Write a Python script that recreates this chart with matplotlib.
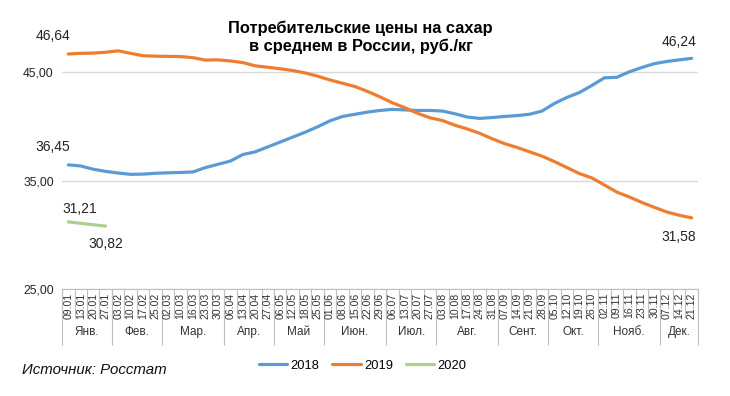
import matplotlib
matplotlib.use("Agg")
import matplotlib.pyplot as plt
import matplotlib.transforms as mtransforms

plt.rcParams['font.family'] = ['Liberation Sans', 'DejaVu Sans']

# weekly dates (same for every year)
dates = ["09.01", "13.01", "20.01", "27.01",
         "03.02", "10.02", "17.02", "25.02",
         "02.03", "10.03", "16.03", "23.03", "30.03",
         "06.04", "13.04", "20.04", "27.04",
         "06.05", "12.05", "18.05", "25.05",
         "01.06", "08.06", "15.06", "22.06", "29.06",
         "06.07", "13.07", "20.07", "27.07",
         "03.08", "10.08", "17.08", "24.08", "31.08",
         "07.09", "14.09", "21.09", "28.09",
         "05.10", "12.10", "19.10", "26.10",
         "02.11", "09.11", "16.11", "23.11", "30.11",
         "07.12", "14.12", "21.12"]
months = ["Янв.", "Фев.", "Мар.", "Апр.", "Май", "Июн.",
          "Июл.", "Авг.", "Сент.", "Окт.", "Нояб.", "Дек."]
weeks_in_month = [4, 4, 5, 4, 4, 5, 4, 5, 4, 4, 5, 3]

prices_2018 = [36.45, 36.35, 36.05, 35.85, 35.70, 35.58, 35.60, 35.68, 35.72, 35.75,
               35.80, 36.20, 36.50, 36.80, 37.40, 37.65, 38.10, 38.55, 39.00, 39.45,
               39.95, 40.50, 40.90, 41.10, 41.30, 41.45, 41.55, 41.50, 41.45, 41.45,
               41.40, 41.15, 40.85, 40.72, 40.80, 40.90, 40.98, 41.10, 41.40, 42.10,
               42.65, 43.10, 43.75, 44.45, 44.50, 45.00, 45.40, 45.75, 45.95, 46.10,
               46.24]
prices_2019 = [46.64, 46.70, 46.72, 46.80, 46.93, 46.70, 46.48, 46.44, 46.42, 46.40,
               46.30, 46.08, 46.10, 46.00, 45.85, 45.55, 45.42, 45.28, 45.12, 44.90,
               44.60, 44.25, 43.95, 43.65, 43.20, 42.70, 42.15, 41.70, 41.20, 40.78,
               40.53, 40.10, 39.75, 39.35, 38.85, 38.40, 38.05, 37.65, 37.25, 36.75,
               36.20, 35.65, 35.25, 34.60, 33.95, 33.50, 33.00, 32.55, 32.12, 31.82,
               31.58]
prices_2020 = [31.21, 31.08, 30.95, 30.82]

c2018 = "#5b9bd5"
c2019 = "#ed7d31"
c2020 = "#a9d18e"

fig = plt.figure(figsize=(7.3, 3.96), dpi=100)
ax = fig.add_axes([0.085, 0.269, 0.871, 0.687])

x = list(range(len(dates)))
ax.plot(x, prices_2018, color=c2018, lw=2.3, label="2018", solid_capstyle="round")
ax.plot(x, prices_2019, color=c2019, lw=2.3, label="2019", solid_capstyle="round")
ax.plot(x[:len(prices_2020)], prices_2020, color=c2020, lw=2.3, label="2020",
        solid_capstyle="round")

ax.set_xlim(-0.5, len(dates) - 0.5)
ax.set_ylim(25, 50)
ax.set_yticks([25, 35, 45])
ax.set_yticklabels(["25,00", "35,00", "45,00"], fontsize=8.7, color="#222222")
ax.tick_params(axis="y", length=0, pad=6)
ax.set_xticks([])
ax.grid(axis="y", color="#d9d9d9", lw=1)
for s in ["top", "right", "left"]:
    ax.spines[s].set_visible(False)
ax.spines["bottom"].set_color("#bfbfbf")

# table-like category axis
trans = mtransforms.blended_transform_factory(ax.transData, ax.transAxes)
for i, d in enumerate(dates):
    ax.text(i, -0.012, d, transform=trans, rotation=90, ha="center", va="top",
            fontsize=7.6, color="#333333")
ax.vlines([i - 0.5 for i in range(len(dates) + 1)], -0.105, 0, transform=trans,
          color="#bfbfbf", lw=0.8, clip_on=False)
start = 0
bounds = [-0.5]
for m, n in zip(months, weeks_in_month):
    ax.text(start + (n - 1) / 2, -0.155, m, transform=trans, ha="center", va="center",
            fontsize=8.5, color="#333333")
    start += n
    bounds.append(start - 0.5)
ax.vlines(bounds, -0.205, 0, transform=trans, color="#bfbfbf", lw=0.8, clip_on=False)

# value labels
lab = dict(fontsize=10, color="#222222", textcoords="offset points", ha="center",
           va="center")
ax.annotate("46,64", (0, prices_2019[0]), xytext=(-11, 13), **lab)
ax.annotate("36,45", (0, prices_2018[0]), xytext=(-11, 13), **lab)
ax.annotate("46,24", (50, prices_2018[-1]), xytext=(-9, 12), **lab)
ax.annotate("31,58", (50, prices_2019[-1]), xytext=(-9, -14), **lab)
ax.annotate("31,21", (0, prices_2020[0]), xytext=(8, 9), **lab)
ax.annotate("30,82", (3, prices_2020[-1]), xytext=(0, -13), **lab)

fig.text(0.494, 0.905, "Потребительские цены на сахар\nв среднем в России, руб./кг",
         ha="center", va="center", fontsize=11.8, fontweight="bold", linespacing=1.22)

ax.legend(loc="center", bbox_to_anchor=(0.497, 0.076), bbox_transform=fig.transFigure,
          ncol=3, frameon=False, fontsize=9.3, handlelength=2.2, handletextpad=0.25,
          columnspacing=1.0)

fig.text(0.03, 0.065, "Источник: Росстат", fontsize=10.8, style="italic",
         ha="left", va="center", color="#111111")

fig.savefig("out.png", dpi=100, facecolor="white")
